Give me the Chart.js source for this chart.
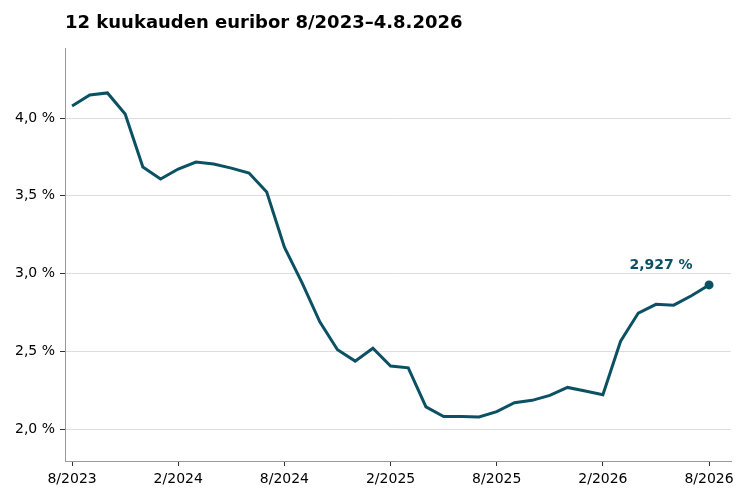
<!DOCTYPE html>
<html>
<head>
<meta charset="utf-8">
<script src="https://cdn.jsdelivr.net/npm/chart.js@4/dist/chart.umd.min.js"></script>
<style>
  html, body { margin: 0; padding: 0; background: #fff; }
  #wrap { width: 750px; height: 500px; }
</style>
</head>
<body>
<div id="wrap"><canvas id="chart" width="750" height="500"></canvas></div>
<script>
// kuukaudet 8/2023 ... 8/2026 (viimeinen = 4.8.2026)
var months = [
    '8/2023', '9/2023', '10/2023', '11/2023', '12/2023',
    '1/2024', '2/2024', '3/2024', '4/2024', '5/2024', '6/2024', '7/2024',
    '8/2024', '9/2024', '10/2024', '11/2024', '12/2024',
    '1/2025', '2/2025', '3/2025', '4/2025', '5/2025', '6/2025', '7/2025',
    '8/2025', '9/2025', '10/2025', '11/2025', '12/2025',
    '1/2026', '2/2026', '3/2026', '4/2026', '5/2026', '6/2026', '7/2026',
    '4.8.2026'
];
var euribor = [
    4.077, 4.148, 4.161, 4.026, 3.685,
    3.608, 3.672, 3.717, 3.704, 3.678, 3.646, 3.524,
    3.170, 2.940, 2.690, 2.510, 2.437,
    2.520, 2.405, 2.394, 2.143, 2.081, 2.081, 2.078,
    2.112, 2.170, 2.185, 2.217, 2.268,
    2.245, 2.221, 2.565, 2.746, 2.802, 2.797, 2.857,
    2.927
];
var xTickLabels = ['8/2023', '2/2024', '8/2024', '2/2025', '8/2025', '2/2026', '8/2026'];
var yTicks = [2.0, 2.5, 3.0, 3.5, 4.0];
var lastLabel = '2,927 %';

var lineColor = '#0b5163';
var font = 'DejaVu Sans';

var points = euribor.map(function (v, i) { return { x: i, y: v }; });

var overlay = {
    id: 'overlay',
    afterDraw: function (chart) {
        var ctx = chart.ctx;
        var area = chart.chartArea;
        ctx.save();
        ctx.fillStyle = '#000';
        ctx.font = 'bold 18px "' + font + '"';
        ctx.textAlign = 'left';
        ctx.textBaseline = 'middle';
        ctx.fillText('12 kuukauden euribor 8/2023\u20134.8.2026', area.left, 23);

        var xs = chart.scales.x, ys = chart.scales.y;
        var i = euribor.length - 1;
        var px = xs.getPixelForValue(i), py = ys.getPixelForValue(euribor[i]);
        ctx.fillStyle = lineColor;
        ctx.font = 'bold 14px "' + font + '"';
        ctx.textAlign = 'center';
        ctx.fillText(lastLabel, px - 48, py - 20);
        ctx.restore();
    }
};

new Chart(document.getElementById('chart'), {
    type: 'line',
    data: {
        datasets: [{
            data: points,
            borderColor: lineColor,
            borderWidth: 3,
            tension: 0,
            pointRadius: points.map(function (p, i) { return i === points.length - 1 ? 4.5 : 0; }),
            pointBackgroundColor: lineColor,
            pointBorderWidth: 0
        }]
    },
    options: {
        responsive: false,
        animation: false,
        layout: { padding: { top: 48, right: 19, bottom: 0, left: 0 } },
        plugins: { legend: { display: false }, tooltip: { enabled: false }, title: { display: false } },
        scales: {
            x: {
                type: 'linear',
                min: -0.4,
                max: 37.24,
                afterBuildTicks: function (s) {
                    s.ticks = xTickLabels.map(function (l, k) { return { value: k * 6 }; });
                },
                afterFit: function (s) { s.height = 39; },
                ticks: {
                    autoSkip: false,
                    maxRotation: 0,
                    color: '#000',
                    padding: 5,
                    font: { family: font, size: 14 },
                    callback: function (v) { return xTickLabels[Math.round(v / 6)]; }
                },
                grid: { drawOnChartArea: false, drawTicks: true, tickLength: 5, tickColor: '#333' },
                border: { color: '#999', width: 1 }
            },
            y: {
                min: 1.795,
                max: 4.45,
                afterBuildTicks: function (s) {
                    s.ticks = yTicks.map(function (v) { return { value: v }; });
                },
                afterFit: function (s) { s.width = 65; },
                ticks: {
                    color: '#000',
                    padding: 5,
                    font: { family: font, size: 14 },
                    callback: function (v) { return v.toFixed(1).replace('.', ',') + ' %'; }
                },
                grid: { color: '#dddddd', lineWidth: 1, tickLength: 5, tickColor: '#333' },
                border: { color: '#999', width: 1 }
            }
        }
    },
    plugins: [overlay]
});
</script>
</body>
</html>
